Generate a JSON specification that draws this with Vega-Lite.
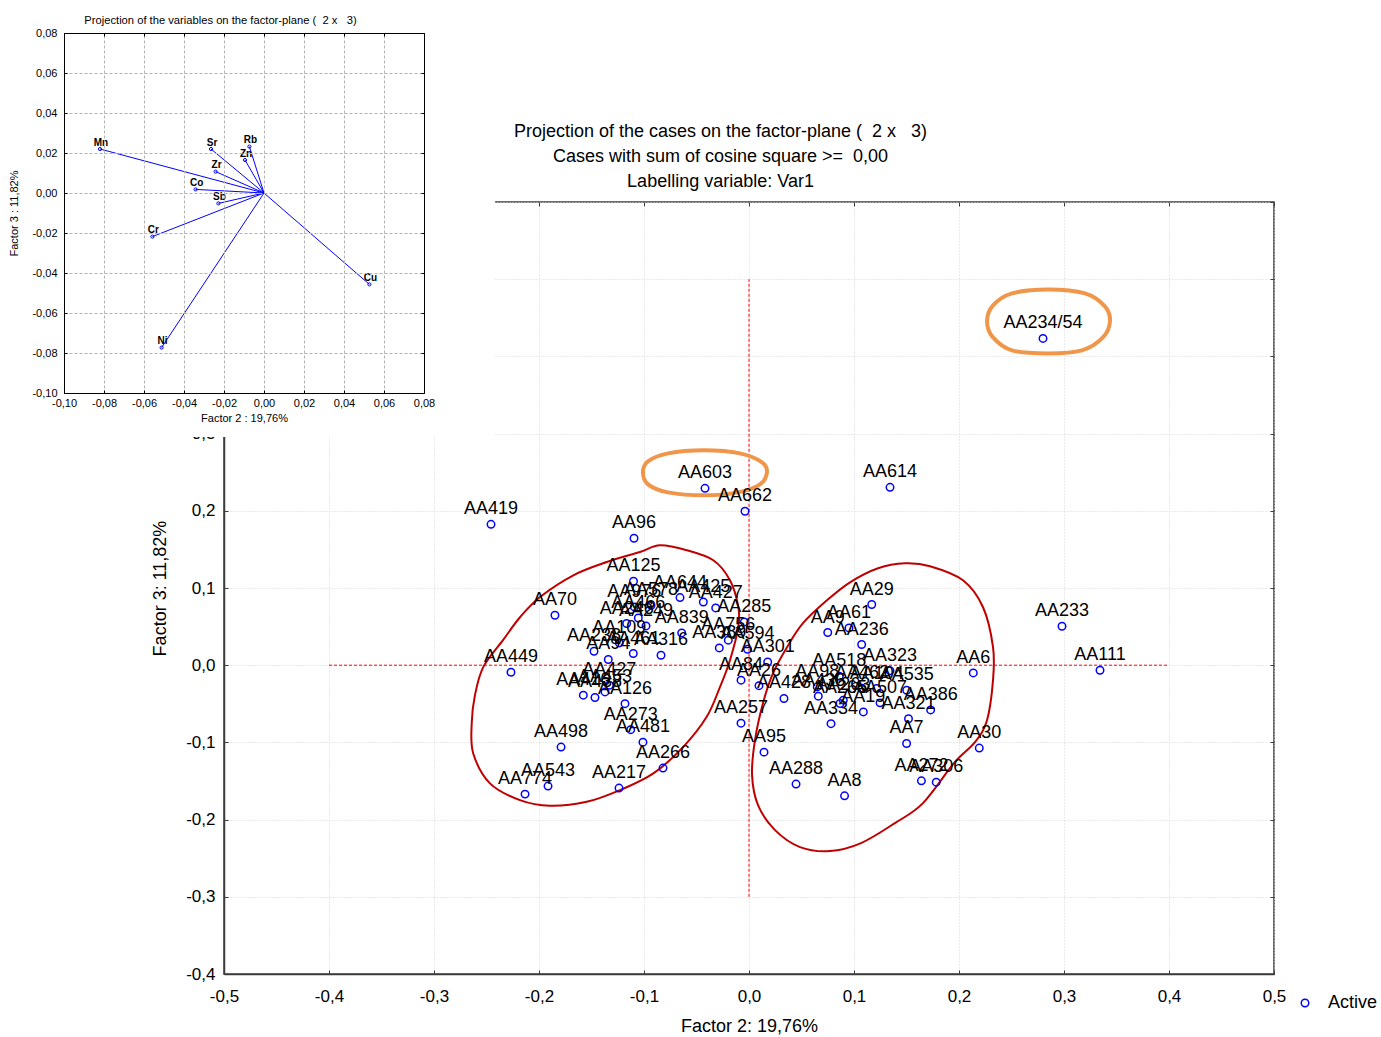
{
  "$schema": "https://vega.github.io/schema/vega-lite/v6.json",
  "width": 1050,
  "height": 772,
  "autosize": {"type": "none"},
  "padding": {"left": 224, "top": 202, "right": 107, "bottom": 63},
  "background": "white",
  "view": {"stroke": "#3c3c3c", "strokeWidth": 1.5},
  "config": {
    "font": "Liberation Sans",
    "locale": {"number": {"decimal": ",", "thousands": ".", "grouping": [3], "currency": ["", ""], "minus": "-"}},
    "axis": {"labelColor": "#000", "titleColor": "#000", "titleFontWeight": "normal", "domainColor": "#3c3c3c", "tickColor": "#3c3c3c", "labelFlush": false, "labelOverlap": false, "titleLimit": 3000}
  },
  "datasets": {
    "cases": [
      {"label": "AA234/54", "x": 0.280, "y": 0.4233, "type": "Active"},
      {"label": "AA603", "x": -0.0419, "y": 0.2291, "type": "Active"},
      {"label": "AA662", "x": -0.0038, "y": 0.1994, "type": "Active"},
      {"label": "AA614", "x": 0.1343, "y": 0.2304, "type": "Active"},
      {"label": "AA419", "x": -0.2457, "y": 0.1825, "type": "Active"},
      {"label": "AA96", "x": -0.1095, "y": 0.1644, "type": "Active"},
      {"label": "AA233", "x": 0.2981, "y": 0.0505, "type": "Active"},
      {"label": "AA111", "x": 0.3343, "y": -0.0065, "type": "Active"},
      {"label": "AA6", "x": 0.2136, "y": -0.0100, "type": "Active"},
      {"label": "AA30", "x": 0.2193, "y": -0.1074, "type": "Active"},
      {"label": "AA29", "x": 0.1169, "y": 0.0786, "type": "Active"},
      {"label": "AA449", "x": -0.2267, "y": -0.0091, "type": "Active"},
      {"label": "AA70", "x": -0.1848, "y": 0.0647, "type": "Active"},
      {"label": "AA125", "x": -0.1100, "y": 0.1087, "type": "Active"},
      {"label": "AA498", "x": -0.1790, "y": -0.1061, "type": "Active"},
      {"label": "AA543", "x": -0.1914, "y": -0.1566, "type": "Active"},
      {"label": "AA774", "x": -0.2133, "y": -0.1670, "type": "Active"},
      {"label": "AA217", "x": -0.1238, "y": -0.1592, "type": "Active"},
      {"label": "AA266", "x": -0.0819, "y": -0.1333, "type": "Active"},
      {"label": "AA481", "x": -0.1010, "y": -0.0997, "type": "Active"},
      {"label": "AA273", "x": -0.1127, "y": -0.0835, "type": "Active"},
      {"label": "AA126", "x": -0.1181, "y": -0.0498, "type": "Active"},
      {"label": "AA288", "x": 0.0448, "y": -0.1540, "type": "Active"},
      {"label": "AA8", "x": 0.0910, "y": -0.1692, "type": "Active"},
      {"label": "AA7", "x": 0.1501, "y": -0.1014, "type": "Active"},
      {"label": "AA272", "x": 0.1642, "y": -0.1498, "type": "Active"},
      {"label": "AA306", "x": 0.1783, "y": -0.1515, "type": "Active"},
      {"label": "AA95", "x": 0.0143, "y": -0.1126, "type": "Active"},
      {"label": "AA257", "x": -0.0076, "y": -0.0751, "type": "Active"},
      {"label": "AA416", "x": -0.1578, "y": -0.0388, "type": "Active"},
      {"label": "AA438", "x": -0.1467, "y": -0.0418, "type": "Active"},
      {"label": "AA453", "x": -0.1371, "y": -0.0346, "type": "Active"},
      {"label": "AA427", "x": -0.1330, "y": -0.0259, "type": "Active"},
      {"label": "AA644", "x": -0.0657, "y": 0.0876, "type": "Active"},
      {"label": "AA425", "x": -0.0435, "y": 0.0819, "type": "Active"},
      {"label": "AA427", "x": -0.0317, "y": 0.0742, "type": "Active"},
      {"label": "AA976", "x": -0.1092, "y": 0.0755, "type": "Active"},
      {"label": "AA578", "x": -0.0933, "y": 0.0777, "type": "Active"},
      {"label": "AA466", "x": -0.1054, "y": 0.0612, "type": "Active"},
      {"label": "AA246", "x": -0.1165, "y": 0.0540, "type": "Active"},
      {"label": "AA249", "x": -0.0981, "y": 0.0509, "type": "Active"},
      {"label": "AA839", "x": -0.0641, "y": 0.0418, "type": "Active"},
      {"label": "AA109", "x": -0.1235, "y": 0.0289, "type": "Active"},
      {"label": "AA238", "x": -0.1476, "y": 0.0181, "type": "Active"},
      {"label": "AA94", "x": -0.1340, "y": 0.0074, "type": "Active"},
      {"label": "AA461", "x": -0.1102, "y": 0.0151, "type": "Active"},
      {"label": "AA316", "x": -0.0838, "y": 0.0129, "type": "Active"},
      {"label": "AA285", "x": -0.0045, "y": 0.0561, "type": "Active"},
      {"label": "AA756", "x": -0.0197, "y": 0.0324, "type": "Active"},
      {"label": "AA389", "x": -0.0283, "y": 0.0224, "type": "Active"},
      {"label": "AA594", "x": -0.0014, "y": 0.0207, "type": "Active"},
      {"label": "AA301", "x": 0.0178, "y": 0.0043, "type": "Active"},
      {"label": "AA84", "x": -0.0076, "y": -0.0194, "type": "Active"},
      {"label": "AA26", "x": 0.0095, "y": -0.0265, "type": "Active"},
      {"label": "AA428", "x": 0.0333, "y": -0.0431, "type": "Active"},
      {"label": "AA9", "x": 0.0750, "y": 0.0423, "type": "Active"},
      {"label": "AA61", "x": 0.0952, "y": 0.0483, "type": "Active"},
      {"label": "AA236", "x": 0.1073, "y": 0.0268, "type": "Active"},
      {"label": "AA323", "x": 0.1343, "y": -0.0071, "type": "Active"},
      {"label": "AA518", "x": 0.0860, "y": -0.0142, "type": "Active"},
      {"label": "AA98", "x": 0.0650, "y": -0.0281, "type": "Active"},
      {"label": "AA462", "x": 0.1076, "y": -0.0298, "type": "Active"},
      {"label": "AA104", "x": 0.1216, "y": -0.0302, "type": "Active"},
      {"label": "AA535", "x": 0.1502, "y": -0.0324, "type": "Active"},
      {"label": "AA436", "x": 0.0660, "y": -0.0401, "type": "Active"},
      {"label": "AA263", "x": 0.0898, "y": -0.0453, "type": "Active"},
      {"label": "AA265", "x": 0.0867, "y": -0.0496, "type": "Active"},
      {"label": "AA507", "x": 0.1248, "y": -0.0488, "type": "Active"},
      {"label": "AA19", "x": 0.1089, "y": -0.0605, "type": "Active"},
      {"label": "AA386", "x": 0.1730, "y": -0.0579, "type": "Active"},
      {"label": "AA321", "x": 0.1519, "y": -0.0693, "type": "Active"},
      {"label": "AA334", "x": 0.0781, "y": -0.0757, "type": "Active"}
    ],
    "ellipses": [
      {"kind": "red", "ellipse": "L", "order": 1, "x": -0.0848, "y": 0.1553},
      {"kind": "red", "ellipse": "L", "order": 2, "x": -0.0593, "y": 0.1489},
      {"kind": "red", "ellipse": "L", "order": 3, "x": -0.0340, "y": 0.1359},
      {"kind": "red", "ellipse": "L", "order": 4, "x": -0.0181, "y": 0.1100},
      {"kind": "red", "ellipse": "L", "order": 5, "x": -0.0102, "y": 0.0755},
      {"kind": "red", "ellipse": "L", "order": 6, "x": -0.0102, "y": 0.0496},
      {"kind": "red", "ellipse": "L", "order": 7, "x": -0.0181, "y": 0.0065},
      {"kind": "red", "ellipse": "L", "order": 8, "x": -0.0276, "y": -0.0281},
      {"kind": "red", "ellipse": "L", "order": 9, "x": -0.0403, "y": -0.0669},
      {"kind": "red", "ellipse": "L", "order": 10, "x": -0.0626, "y": -0.1058},
      {"kind": "red", "ellipse": "L", "order": 11, "x": -0.0911, "y": -0.1402},
      {"kind": "red", "ellipse": "L", "order": 12, "x": -0.1229, "y": -0.1618},
      {"kind": "red", "ellipse": "L", "order": 13, "x": -0.1546, "y": -0.1770},
      {"kind": "red", "ellipse": "L", "order": 14, "x": -0.1895, "y": -0.1821},
      {"kind": "red", "ellipse": "L", "order": 15, "x": -0.2181, "y": -0.1748},
      {"kind": "red", "ellipse": "L", "order": 16, "x": -0.2467, "y": -0.1531},
      {"kind": "red", "ellipse": "L", "order": 17, "x": -0.2626, "y": -0.1143},
      {"kind": "red", "ellipse": "L", "order": 18, "x": -0.2641, "y": -0.0755},
      {"kind": "red", "ellipse": "L", "order": 19, "x": -0.2610, "y": -0.0388},
      {"kind": "red", "ellipse": "L", "order": 20, "x": -0.2530, "y": -0.0022},
      {"kind": "red", "ellipse": "L", "order": 21, "x": -0.2343, "y": 0.0324},
      {"kind": "red", "ellipse": "L", "order": 22, "x": -0.2181, "y": 0.0621},
      {"kind": "red", "ellipse": "L", "order": 23, "x": -0.1990, "y": 0.0884},
      {"kind": "red", "ellipse": "L", "order": 24, "x": -0.1673, "y": 0.1165},
      {"kind": "red", "ellipse": "L", "order": 25, "x": -0.1355, "y": 0.1337},
      {"kind": "red", "ellipse": "L", "order": 26, "x": -0.1038, "y": 0.1467},
      {"kind": "red", "ellipse": "R", "order": 1, "x": 0.1486, "y": 0.1320},
      {"kind": "red", "ellipse": "R", "order": 2, "x": 0.1724, "y": 0.1282},
      {"kind": "red", "ellipse": "R", "order": 3, "x": 0.2038, "y": 0.1100},
      {"kind": "red", "ellipse": "R", "order": 4, "x": 0.2229, "y": 0.0751},
      {"kind": "red", "ellipse": "R", "order": 5, "x": 0.2324, "y": 0.0233},
      {"kind": "red", "ellipse": "R", "order": 6, "x": 0.2324, "y": -0.0194},
      {"kind": "red", "ellipse": "R", "order": 7, "x": 0.2267, "y": -0.0712},
      {"kind": "red", "ellipse": "R", "order": 8, "x": 0.2152, "y": -0.0997},
      {"kind": "red", "ellipse": "R", "order": 9, "x": 0.1952, "y": -0.1269},
      {"kind": "red", "ellipse": "R", "order": 10, "x": 0.1657, "y": -0.1786},
      {"kind": "red", "ellipse": "R", "order": 11, "x": 0.1390, "y": -0.2045},
      {"kind": "red", "ellipse": "R", "order": 12, "x": 0.1067, "y": -0.2304},
      {"kind": "red", "ellipse": "R", "order": 13, "x": 0.0771, "y": -0.2408},
      {"kind": "red", "ellipse": "R", "order": 14, "x": 0.0486, "y": -0.2356},
      {"kind": "red", "ellipse": "R", "order": 15, "x": 0.0248, "y": -0.2136},
      {"kind": "red", "ellipse": "R", "order": 16, "x": 0.0086, "y": -0.1812},
      {"kind": "red", "ellipse": "R", "order": 17, "x": 0.0029, "y": -0.1424},
      {"kind": "red", "ellipse": "R", "order": 18, "x": 0.0057, "y": -0.0971},
      {"kind": "red", "ellipse": "R", "order": 19, "x": 0.0133, "y": -0.0492},
      {"kind": "red", "ellipse": "R", "order": 20, "x": 0.0229, "y": -0.0104},
      {"kind": "red", "ellipse": "R", "order": 21, "x": 0.0362, "y": 0.0233},
      {"kind": "red", "ellipse": "R", "order": 22, "x": 0.0514, "y": 0.0544},
      {"kind": "red", "ellipse": "R", "order": 23, "x": 0.0743, "y": 0.0841},
      {"kind": "red", "ellipse": "R", "order": 24, "x": 0.0962, "y": 0.1074},
      {"kind": "red", "ellipse": "R", "order": 25, "x": 0.1229, "y": 0.1256},
      {"kind": "orange", "ellipse": "O1", "order": 1, "x": 0.2848, "y": 0.4867},
      {"kind": "orange", "ellipse": "O1", "order": 2, "x": 0.3200, "y": 0.4816},
      {"kind": "orange", "ellipse": "O1", "order": 3, "x": 0.3390, "y": 0.4647},
      {"kind": "orange", "ellipse": "O1", "order": 4, "x": 0.3438, "y": 0.4453},
      {"kind": "orange", "ellipse": "O1", "order": 5, "x": 0.3371, "y": 0.4246},
      {"kind": "orange", "ellipse": "O1", "order": 6, "x": 0.3171, "y": 0.4078},
      {"kind": "orange", "ellipse": "O1", "order": 7, "x": 0.2848, "y": 0.4039},
      {"kind": "orange", "ellipse": "O1", "order": 8, "x": 0.2505, "y": 0.4078},
      {"kind": "orange", "ellipse": "O1", "order": 9, "x": 0.2324, "y": 0.4246},
      {"kind": "orange", "ellipse": "O1", "order": 10, "x": 0.2267, "y": 0.4453},
      {"kind": "orange", "ellipse": "O1", "order": 11, "x": 0.2324, "y": 0.4660},
      {"kind": "orange", "ellipse": "O1", "order": 12, "x": 0.2505, "y": 0.4816},
      {"kind": "orange", "ellipse": "O2", "order": 1, "x": -0.0429, "y": 0.2783},
      {"kind": "orange", "ellipse": "O2", "order": 2, "x": -0.0086, "y": 0.2744},
      {"kind": "orange", "ellipse": "O2", "order": 3, "x": 0.0124, "y": 0.2628},
      {"kind": "orange", "ellipse": "O2", "order": 4, "x": 0.0171, "y": 0.2498},
      {"kind": "orange", "ellipse": "O2", "order": 5, "x": 0.0105, "y": 0.2343},
      {"kind": "orange", "ellipse": "O2", "order": 6, "x": -0.0105, "y": 0.2239},
      {"kind": "orange", "ellipse": "O2", "order": 7, "x": -0.0429, "y": 0.2201},
      {"kind": "orange", "ellipse": "O2", "order": 8, "x": -0.0771, "y": 0.2239},
      {"kind": "orange", "ellipse": "O2", "order": 9, "x": -0.0962, "y": 0.2343},
      {"kind": "orange", "ellipse": "O2", "order": 10, "x": -0.1010, "y": 0.2498},
      {"kind": "orange", "ellipse": "O2", "order": 11, "x": -0.0962, "y": 0.2641},
      {"kind": "orange", "ellipse": "O2", "order": 12, "x": -0.0771, "y": 0.2744}
    ],
    "vars": [
      {"var": "Mn", "x": -0.082, "y": 0.022},
      {"var": "Sr", "x": -0.0265, "y": 0.022},
      {"var": "Rb", "x": -0.0073, "y": 0.0232},
      {"var": "Zn", "x": -0.0095, "y": 0.0165},
      {"var": "Zr", "x": -0.0242, "y": 0.0107},
      {"var": "Co", "x": -0.0342, "y": 0.0018},
      {"var": "Sb", "x": -0.0228, "y": -0.0052},
      {"var": "Cr", "x": -0.0558, "y": -0.0218},
      {"var": "Ni", "x": -0.0512, "y": -0.0773},
      {"var": "Cu", "x": 0.0527, "y": -0.0457}
    ]
  },
  "resolve": {"scale": {"x": "independent", "y": "independent"}, "axis": {"x": "independent", "y": "independent"}},
  "layer": [
    {
      "resolve": {"axis": {"x": "independent", "y": "independent"}},
      "layer": [
        {
          "data": {"values": [{}]},
          "mark": {"type": "rule", "color": "#FF0000", "strokeDash": [3, 2], "strokeWidth": 1},
          "encoding": {
            "x": {"datum": -0.4, "type": "quantitative", "axis": null},
            "x2": {"datum": 0.4},
            "y": {"datum": 0, "type": "quantitative", "axis": null}
          }
        },
        {
          "data": {"values": [{}]},
          "mark": {"type": "rule", "color": "#FF0000", "strokeDash": [3, 2], "strokeWidth": 1},
          "encoding": {
            "x": {"datum": 0, "type": "quantitative", "axis": null},
            "y": {"datum": -0.3, "type": "quantitative", "axis": null},
            "y2": {"datum": 0.5}
          }
        },
        {
          "data": {"name": "ellipses"},
          "transform": [{"filter": "datum.kind == 'red'"}],
          "mark": {"type": "line", "color": "#C00000", "strokeWidth": 2, "interpolate": "cardinal-closed"},
          "encoding": {
            "x": {"field": "x", "type": "quantitative", "axis": null},
            "y": {"field": "y", "type": "quantitative", "axis": null},
            "detail": {"field": "ellipse", "type": "nominal"},
            "order": {"field": "order", "type": "quantitative"}
          }
        },
        {
          "data": {"name": "ellipses"},
          "transform": [{"filter": "datum.kind == 'orange'"}],
          "mark": {"type": "line", "color": "#F0964A", "strokeWidth": 4, "interpolate": "cardinal-closed"},
          "encoding": {
            "x": {"field": "x", "type": "quantitative", "axis": null},
            "y": {"field": "y", "type": "quantitative", "axis": null},
            "detail": {"field": "ellipse", "type": "nominal"},
            "order": {"field": "order", "type": "quantitative"}
          }
        },
        {
          "data": {"name": "cases"},
          "mark": {"type": "point", "shape": "circle", "filled": false, "size": 56, "strokeWidth": 1.5, "opacity": 1},
          "encoding": {
            "x": {
              "field": "x", "type": "quantitative",
              "scale": {"domain": [-0.5, 0.5], "nice": false, "zero": false},
              "axis": {
                "orient": "bottom",
                "values": [-0.5, -0.4, -0.3, -0.2, -0.1, 0, 0.1, 0.2, 0.3, 0.4, 0.5],
                "format": ".1f",
                "title": "Factor 2: 19,76%",
                "grid": true, "gridColor": "#d4d4d4", "gridDash": [1, 2],
                "domainWidth": 1.5, "tickSize": -4, "labelPadding": 18,
                "labelFontSize": 17, "titleFontSize": 18, "titlePadding": 13
              }
            },
            "y": {
              "field": "y", "type": "quantitative",
              "scale": {"domain": [-0.4, 0.6], "nice": false, "zero": false},
              "axis": {
                "orient": "left",
                "values": [-0.4, -0.3, -0.2, -0.1, 0, 0.1, 0.2, 0.3, 0.4, 0.5, 0.6],
                "format": ".1f",
                "title": "Factor 3: 11,82%",
                "grid": true, "gridColor": "#d4d4d4", "gridDash": [1, 2],
                "domainWidth": 1.5, "tickSize": -4, "labelPadding": 13,
                "labelFontSize": 17, "titleFontSize": 18, "titlePadding": 16
              }
            },
            "color": {
              "field": "type", "type": "nominal",
              "scale": {"range": ["#0000FF"]},
              "legend": {
                "orient": "none", "legendX": 1072, "legendY": 792, "title": null,
                "labelFontSize": 18, "labelColor": "#000", "symbolSize": 56,
                "symbolStrokeWidth": 1.5, "labelOffset": 14, "padding": 0, "symbolType": "circle"
              }
            }
          }
        },
        {
          "data": {"name": "cases"},
          "mark": {"type": "text", "fontSize": 18, "align": "center", "baseline": "alphabetic", "dy": -10, "color": "#000"},
          "encoding": {
            "x": {
              "field": "x", "type": "quantitative",
              "axis": {
                "orient": "top",
                "values": [-0.5, -0.4, -0.3, -0.2, -0.1, 0, 0.1, 0.2, 0.3, 0.4, 0.5],
                "labels": false, "grid": false, "domain": false, "tickSize": -4,
                "title": ["Projection of the cases on the factor-plane (\u00a0\u00a02 x\u00a0\u00a0\u00a03)", "Cases with sum of cosine square >=\u00a0\u00a00,00", "Labelling variable: Var1"],
                "titleFontSize": 18, "titleLineHeight": 25, "titleX": 496, "titleY": -65.5,
                "titleBaseline": "alphabetic", "titleAlign": "center", "titleAngle": 0
              }
            },
            "y": {
              "field": "y", "type": "quantitative",
              "axis": {
                "orient": "right",
                "values": [-0.4, -0.3, -0.2, -0.1, 0, 0.1, 0.2, 0.3, 0.4, 0.5, 0.6],
                "labels": false, "grid": false, "domain": false, "tickSize": -4, "title": null
              }
            },
            "text": {"field": "label", "type": "nominal"}
          }
        }
      ]
    },
    {
      "resolve": {"axis": {"x": "independent", "y": "independent"}},
      "layer": [
        {
          "data": {"values": [{}]},
          "mark": {"type": "rect", "color": "#FFFFFF"},
          "encoding": {
            "x": {
              "datum": -0.132, "type": "quantitative",
              "scale": {"domain": [-0.1, 0.08], "range": [-160, 200], "nice": false, "zero": false},
              "axis": {
                "orient": "bottom", "offset": -581, "zindex": 1,
                "values": [-0.1, -0.08, -0.06, -0.04, -0.02, 0, 0.02, 0.04, 0.06, 0.08],
                "format": ".2f", "title": "Factor 2 : 19,76%",
                "grid": false,
                "domainColor": "#000", "tickColor": "#000", "tickSize": -3, "labelPadding": 7,
                "labelFontSize": 11, "titleFontSize": 11, "titlePadding": 4
              }
            },
            "x2": {"datum": 0.1155},
            "y": {
              "datum": 0.0965, "type": "quantitative",
              "scale": {"domain": [-0.1, 0.08], "range": [191, -169], "nice": false, "zero": false},
              "axis": {
                "orient": "left", "offset": 160, "zindex": 1,
                "values": [-0.1, -0.08, -0.06, -0.04, -0.02, 0, 0.02, 0.04, 0.06, 0.08],
                "format": ".2f", "title": "Factor 3 : 11,82%",
                "grid": true, "gridColor": "#b4b4b4", "gridDash": [3, 2],
                "domainColor": "#000", "tickColor": "#000", "tickSize": -3, "labelPadding": 10,
                "labelFontSize": 11, "titleFontSize": 11, "titlePadding": 12
              }
            },
            "y2": {"datum": -0.122}
          }
        },
        {
          "data": {"name": "vars"},
          "mark": {"type": "rule", "color": "#0000FF", "strokeWidth": 1},
          "encoding": {
            "x": {
              "field": "x", "type": "quantitative",
              "axis": {
                "orient": "top", "offset": 169, "zindex": 1,
                "values": [-0.1, -0.08, -0.06, -0.04, -0.02, 0, 0.02, 0.04, 0.06, 0.08],
                "labels": false,
                "grid": true, "gridColor": "#b4b4b4", "gridDash": [3, 2],
                "domainColor": "#000", "tickColor": "#000", "tickSize": -3,
                "title": "Projection of the variables on the factor-plane (\u00a0\u00a02 x\u00a0\u00a0\u00a03)",
                "titleFontSize": 11.2, "titleX": -4, "titleY": -13, "titleBaseline": "middle", "titleAlign": "center", "titleAngle": 0
              }
            },
            "x2": {"datum": 0},
            "y": {
              "field": "y", "type": "quantitative",
              "axis": {
                "orient": "right", "offset": -850, "zindex": 1,
                "values": [-0.1, -0.08, -0.06, -0.04, -0.02, 0, 0.02, 0.04, 0.06, 0.08],
                "labels": false, "grid": false, "title": null,
                "domainColor": "#000", "tickColor": "#000", "tickSize": -3
              }
            },
            "y2": {"datum": 0}
          }
        },
        {
          "data": {"name": "vars"},
          "mark": {"type": "point", "shape": "circle", "filled": false, "size": 10, "strokeWidth": 1, "color": "#0000FF", "opacity": 1},
          "encoding": {
            "x": {"field": "x", "type": "quantitative", "axis": null},
            "y": {"field": "y", "type": "quantitative", "axis": null}
          }
        },
        {
          "data": {"name": "vars"},
          "mark": {"type": "text", "fontSize": 10, "fontWeight": "bold", "align": "center", "baseline": "alphabetic", "dx": 1, "dy": -3.5, "color": "#000"},
          "encoding": {
            "x": {"field": "x", "type": "quantitative", "axis": null},
            "y": {"field": "y", "type": "quantitative", "axis": null},
            "text": {"field": "var", "type": "nominal"}
          }
        }
      ]
    }
  ]
}
